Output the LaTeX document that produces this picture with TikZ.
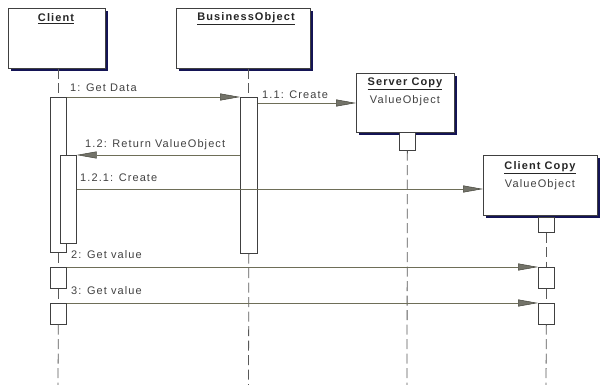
\documentclass[tikz,border=0pt]{standalone}
\usepackage{fontspec}
\setmainfont{Liberation Sans}
\usetikzlibrary{arrows.meta,shadows}
\definecolor{msgline}{RGB}{110,110,88}
\definecolor{headfill}{RGB}{115,115,105}
\definecolor{headline}{RGB}{70,70,60}
\definecolor{txt}{RGB}{65,65,65}
\definecolor{shadowcol}{RGB}{20,20,85}
\newcommand{\lbl}{\fontsize{11}{13}\selectfont\addfontfeature{LetterSpace=10}}
\begin{document}
\begin{tikzpicture}[x=1pt,y=-1pt,
  objbox/.style={draw=black!75, fill=white, line width=0.7pt, inner sep=0pt, anchor=north west,
    drop shadow={shadow xshift=2.2pt, shadow yshift=-2.2pt, fill=shadowcol, opacity=1}},
  actbox/.style={draw=black!75, fill=white, line width=0.7pt, inner sep=0pt, anchor=north west, minimum width=16pt},
  lifeline/.style={draw=black!65, line width=0.8pt, dash pattern=on 10pt off 4.5pt},
  msg/.style={draw=msgline, line width=0.8pt,
    -{Triangle[length=20pt,width=7pt,fill=headfill,color=headline,line width=0.5pt]}},
  msgtext/.style={text=txt, font=\lbl, inner sep=0pt, anchor=west},
  title/.style={text=black!85, font=\lbl\bfseries, inner sep=0pt},
  typetext/.style={text=txt, font=\lbl, inner sep=0pt}]
\useasboundingbox (0,0) rectangle (600,385);

% objects
\node[objbox, minimum width=97pt, minimum height=60pt] (client) at (8,8) {};
\node[objbox, minimum width=134pt, minimum height=60pt] (bo) at (176,8) {};
\node[objbox, minimum width=98pt, minimum height=59pt] (sc) at (356,73) {};
\node[objbox, minimum width=114pt, minimum height=60pt] (cc) at (483,155) {};

\node[title] (clientt) at (56,19) {\underline{Client}};
\node[title] (bot) at (246,19) {\underline{BusinessObject}};
\node[title] (sct) at (405,84) {\underline{Server Copy}};
\node[typetext] (scv) at (405,101) {ValueObject};
\node[title] (cct) at (540,168) {\underline{Client Copy}};
\node[typetext] (ccv) at (540,185) {ValueObject};

% lifeline bottoms
\coordinate (cbot) at (58,385);
\coordinate (bbot) at (248.5,385);
\coordinate (sbot) at (407,385);
\coordinate (ccbot) at (546,385);

% activations
\node[actbox, minimum height=155pt] (cact) at (50,97) {};
\node[actbox, minimum height=88pt] (cact2) at (60,155) {};
\node[actbox, minimum width=17pt, minimum height=156pt] (boact) at (240,97) {};
\node[actbox, minimum height=18pt] (scact) at (399,132) {};
\node[actbox, minimum height=15pt] (ccact) at (538,217) {};
\node[actbox, minimum height=21pt] (cget2) at (50,267) {};
\node[actbox, minimum height=21pt] (cget3) at (50,303) {};
\node[actbox, minimum height=21pt] (ccget2) at (538,267) {};
\node[actbox, minimum height=21pt] (ccget3) at (538,303) {};

% lifelines
\draw[lifeline] (cact.north |- client.south) -- (cact.north);
\draw[lifeline] (cact.south) -- (cget2.north);
\draw[lifeline] (cget2.south) -- (cget3.north);
\draw[lifeline] (cget3.south) -- (cbot);
\draw[lifeline] (boact.north |- bo.south) -- (boact.north);
\draw[lifeline] (boact.south) -- (bbot);
\draw[lifeline] (scact.south) -- (sbot);
\draw[lifeline] (ccact.south) -- (ccget2.north);
\draw[lifeline] (ccget2.south) -- (ccget3.north);
\draw[lifeline] (ccget3.south) -- (ccbot);

% messages
\draw[msg] (cact.north east) -- (boact.north west);
\node[msgtext] (m1) at (70,88) {1: Get Data};

\path (boact.north east) ++(0,6) coordinate (m11s);
\draw[msg] (m11s) -- (m11s -| sc.west);
\node[msgtext] (m11) at (262,95) {1.1: Create};

\draw[msg] (cact2.north east -| boact.west) -- (cact2.north east);
\node[msgtext] (m12) at (85,145) {1.2: Return ValueObject};

\path (cact2.north east) ++(0,34) coordinate (m121s);
\draw[msg] (m121s) -- (m121s -| cc.west);
\node[msgtext] (m121) at (80,178) {1.2.1: Create};

\draw[msg] (cget2.north east) -- (ccget2.north west);
\node[msgtext] (m2) at (71,255) {2: Get value};

\draw[msg] (cget3.north east) -- (ccget3.north west);
\node[msgtext] (m3) at (71,291) {3: Get value};
\end{tikzpicture}
\end{document}
